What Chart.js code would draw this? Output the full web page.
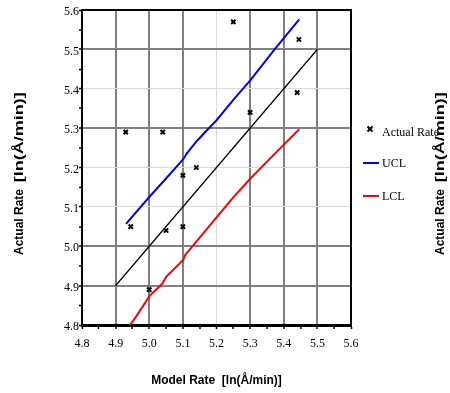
<!DOCTYPE html>
<html>
<head>
<meta charset="utf-8">
<script src="https://cdn.jsdelivr.net/npm/chart.js@4.4.1/dist/chart.umd.min.js"></script>
<style>
  html, body { margin: 0; padding: 0; background: #fff; }
  #wrap { width: 450px; height: 393px; }
</style>
</head>
<body>
<div id="wrap"><canvas id="c" width="450" height="393"></canvas></div>
<script>
// ---- data ----
const actualX = [4.93, 5.04, 5.14, 5.10, 4.945, 5.05, 5.10, 5.00, 5.25, 5.445, 5.44, 5.30];
const actualY = [5.29, 5.29, 5.20, 5.18, 5.05, 5.04, 5.05, 4.89, 5.57, 5.525, 5.39, 5.34];

const refX = [4.9, 5.5];
const refY = [4.9, 5.5];

const uclX = [4.931, 5.00, 5.05, 5.101, 5.112, 5.142, 5.20, 5.25, 5.301, 5.371, 5.446];
const uclY = [5.057, 5.125, 5.172, 5.221, 5.236, 5.268, 5.320, 5.372, 5.422, 5.498, 5.576];

const lclX = [4.943, 4.960, 5.001, 5.038, 5.051, 5.101, 5.107, 5.140, 5.202, 5.250, 5.301, 5.370, 5.446];
const lclY = [4.800, 4.820, 4.874, 4.904, 4.923, 4.965, 4.978, 5.012, 5.075, 5.124, 5.172, 5.232, 5.297];

const xTickLabels = ['4.8', '4.9', '5.0', '5.1', '5.2', '5.3', '5.4', '5.5', '5.6'];
const yTickLabels = ['4.8', '4.9', '5.0', '5.1', '5.2', '5.3', '5.4', '5.5', '5.6'];

const seriesNames = ['Actual Rate', 'UCL', 'LCL'];
const axisTitleX = 'Model Rate  [ln(Å/min)]';
const axisTitleY = 'Actual Rate  [ln(Å/min)]';

// grid-line shades as they appear in the reference
const xDarkGrid = ['4.9', '5.0', '5.1', '5.3', '5.4', '5.5'];
const yDarkGrid = ['4.9', '5.0', '5.3', '5.5'];

const zip = (xs, ys) => xs.map((x, i) => ({ x: x, y: ys[i] }));

const DARK = '#808080', LIGHT = '#d9d9d9';

function gridColor(darkList) {
  return (ctx) => {
    const t = ctx.tick;
    if (!t) return 'rgba(0,0,0,0)';
    if (ctx.index % 2 === 1) return 'rgba(0,0,0,0)';
    const lbl = t.value.toFixed(1);
    if (lbl === '4.8' || lbl === '5.6') return 'rgba(0,0,0,0)';
    return darkList.includes(lbl) ? DARK : LIGHT;
  };
}
function gridWidth(darkList) {
  return (ctx) => {
    const t = ctx.tick;
    if (!t) return 1;
    return darkList.includes(t.value.toFixed(1)) ? 2 : 1;
  };
}

function drawYTitle(ctx, cx, bottomY) {
  const split = axisTitleY.indexOf('[');
  const part1 = axisTitleY.slice(0, split);
  const part2 = axisTitleY.slice(split);
  ctx.save();
  ctx.translate(cx, bottomY);
  ctx.rotate(-Math.PI / 2);
  ctx.font = 'bold 12px "Liberation Sans", Arial, sans-serif';
  ctx.textAlign = 'left';
  ctx.textBaseline = 'middle';
  ctx.fillStyle = '#000';
  ctx.fillText(part1, 0, 0);
  const w1 = ctx.measureText(part1).width;
  ctx.translate(w1, 0);
  ctx.scale(1.5, 1);
  ctx.fillText(part2, 0, 0);
  ctx.restore();
}

const frameAndLegend = {
  id: 'frameAndLegend',
  afterDraw(chart) {
    const { ctx, chartArea: a } = chart;
    ctx.save();
    // top and right frame
    ctx.strokeStyle = '#000';
    ctx.lineWidth = 2;
    ctx.beginPath();
    ctx.moveTo(a.left, a.top);
    ctx.lineTo(a.right, a.top);
    ctx.lineTo(a.right, a.bottom);
    ctx.stroke();

    // legend
    const items = [0, 2, 3];
    const rowsY = [131.5, 163, 196];
    ctx.font = '12px "Liberation Serif", "Times New Roman", serif';
    ctx.textBaseline = 'middle';
    ctx.textAlign = 'left';
    items.forEach((di, k) => {
      const ds = chart.data.datasets[di];
      const y = rowsY[k];
      if (di === 0) {
        ctx.strokeStyle = '#000';
        ctx.lineWidth = 2;
        const cx = 370, cy = y - 2.5, r = 2.5;
        ctx.beginPath();
        ctx.moveTo(cx - r, cy - r); ctx.lineTo(cx + r, cy + r);
        ctx.moveTo(cx + r, cy - r); ctx.lineTo(cx - r, cy + r);
        ctx.stroke();
      } else {
        ctx.strokeStyle = ds.borderColor;
        ctx.lineWidth = 2;
        ctx.beginPath();
        ctx.moveTo(363, y); ctx.lineTo(379, y);
        ctx.stroke();
      }
      ctx.fillStyle = '#000';
      ctx.fillText(ds.label, 382, y + 1);
    });
    ctx.restore();

    // y-axis titles (left and the duplicate on the right)
    drawYTitle(ctx, 20, 255);
    drawYTitle(ctx, 441, 255);
  }
};

new Chart(document.getElementById('c'), {
  type: 'scatter',
  data: {
    datasets: [
      {
        label: seriesNames[0],
        data: zip(actualX, actualY),
        pointStyle: 'crossRot',
        pointRadius: 3,
        pointHoverRadius: 3,
        borderColor: '#000',
        backgroundColor: '#000',
        pointBorderWidth: 2,
        showLine: false,
        order: 0
      },
      {
        label: 'ref',
        data: zip(refX, refY),
        showLine: true,
        borderColor: '#000',
        borderWidth: 1.5,
        pointRadius: 0,
        tension: 0,
        order: 3
      },
      {
        label: seriesNames[1],
        data: zip(uclX, uclY),
        showLine: true,
        borderColor: '#0000ff',
        borderWidth: 2,
        pointRadius: 0,
        tension: 0,
        order: 2
      },
      {
        label: seriesNames[2],
        data: zip(lclX, lclY),
        showLine: true,
        borderColor: '#ff0000',
        borderWidth: 2,
        pointRadius: 0,
        tension: 0,
        order: 1
      }
    ]
  },
  options: {
    responsive: false,
    animation: false,
    devicePixelRatio: 1,
    layout: { padding: { top: 10, right: 99, left: 0, bottom: 0 } },
    plugins: {
      legend: { display: false },
      tooltip: { enabled: false }
    },
    scales: {
      x: {
        type: 'linear',
        min: 4.8, max: 5.6,
        afterFit(s) { s.height = 68; },
        ticks: {
          stepSize: 0.05,
          autoSkip: false,
          maxRotation: 0,
          padding: 8,
          color: '#000',
          font: { family: '"Liberation Serif", "Times New Roman", serif', size: 12 },
          callback: (v, i) => (i % 2 === 0 ? xTickLabels[i / 2] : '')
        },
        grid: {
          color: gridColor(xDarkGrid),
          lineWidth: gridWidth(xDarkGrid),
          drawTicks: true,
          tickLength: 4,
          tickColor: '#000',
          tickWidth: 1.5
        },
        border: { color: '#000', width: 3 },
        title: {
          display: true,
          text: axisTitleX,
          color: '#000',
          font: { family: '"Liberation Sans", Arial, sans-serif', size: 12, weight: 'bold' },
          padding: { top: 4, bottom: 5 }
        }
      },
      y: {
        type: 'linear',
        min: 4.8, max: 5.6,
        afterFit(s) { s.width = 82; },
        ticks: {
          stepSize: 0.05,
          autoSkip: false,
          padding: 0,
          labelOffset: 2,
          color: '#000',
          font: { family: '"Liberation Serif", "Times New Roman", serif', size: 12 },
          callback: (v, i) => (i % 2 === 0 ? yTickLabels[i / 2] : '')
        },
        grid: {
          color: gridColor(yDarkGrid),
          lineWidth: gridWidth(yDarkGrid),
          drawTicks: true,
          tickLength: 3,
          tickColor: '#000',
          tickWidth: 1.5
        },
        border: { color: '#000', width: 2 },
        title: { display: false, text: axisTitleY }
      }
    }
  },
  plugins: [frameAndLegend]
});
</script>
</body>
</html>
